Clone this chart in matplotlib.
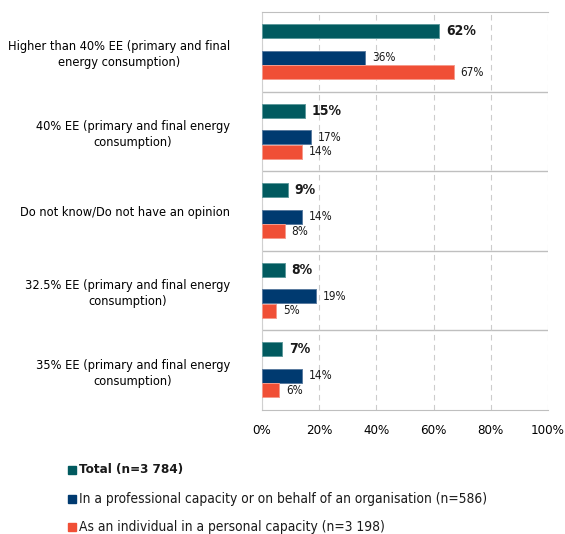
import matplotlib.pyplot as plt
from matplotlib.patches import Rectangle

categories = ['Higher than 40% EE (primary and final\nenergy consumption)',
              '40% EE (primary and final energy\nconsumption)',
              'Do not know/Do not have an opinion',
              '32.5% EE (primary and final energy\nconsumption)',
              '35% EE (primary and final energy\nconsumption)']
total = [62, 15, 9, 8, 7]
professional = [36, 17, 14, 19, 14]
individual = [67, 14, 8, 5, 6]
series_names = ['Total (n=3 784)',
                'In a professional capacity or on behalf of an organisation (n=586)',
                'As an individual in a personal capacity (n=3 198)']
colors = ['#015A5F', '#003A70', '#F04F36']
edges = ['#5E9A9C', '#5A7BA0', '#F59A8C']

plt.rcParams['font.family'] = ['DejaVu Sans']
plt.rcParams['font.stretch'] = 'condensed'

fig = plt.figure(figsize=(5.65, 5.34), dpi=100)
ax = fig.add_axes([262/565, 1-410/534, 286/565, 398/534])

n = len(categories)
pos_t = [i + 0.239 for i in range(n)]
pos_p = [i + 0.572 for i in range(n)]
pos_i = [i + 0.754 for i in range(n)]
h = 0.176

ax.barh(pos_t, total, height=h, color=colors[0], edgecolor=edges[0], linewidth=0.7, zorder=3)
ax.barh(pos_p, professional, height=h, color=colors[1], edgecolor=edges[1], linewidth=0.7, zorder=3)
ax.barh(pos_i, individual, height=h, color=colors[2], edgecolor=edges[2], linewidth=0.7, zorder=3)

for y, v in zip(pos_t, total):
    ax.text(v + 2.4, y, f'{v}%', va='center', ha='left', fontsize=10, fontweight='bold', color='#1a1a1a')
for y, v in zip(pos_p, professional):
    ax.text(v + 2.4, y, f'{v}%', va='center', ha='left', fontsize=8.5, color='#1a1a1a')
for y, v in zip(pos_i, individual):
    ax.text(v + 2.4, y, f'{v}%', va='center', ha='left', fontsize=8.5, color='#1a1a1a')

ax.set_xlim(0, 100)
ax.set_ylim(n, 0)
ax.set_xticks(range(0, 101, 20))
ax.set_xticklabels([f'{t}%' for t in range(0, 101, 20)], fontsize=9.5)
ax.set_yticks([i + 0.5 for i in range(n)])
ax.set_yticklabels(categories, fontsize=9.2, linespacing=1.3)
for lab in ax.get_yticklabels():
    lab.set_multialignment('center')
ax.tick_params(axis='y', length=0, pad=23)
ax.tick_params(axis='x', length=0, pad=10)

ax.xaxis.grid(True, linestyle=(0, (5, 4)), color='#cccccc', linewidth=0.8, zorder=0)
for i in range(1, n):
    ax.axhline(i, color='#bfbfbf', linewidth=1, zorder=1)
for s in ['top', 'bottom']:
    ax.spines[s].set_color('#bfbfbf')
ax.spines['left'].set_color('#d0d0d0')
ax.spines['right'].set_visible(False)

# legend
leg_y = [470, 499, 527]
for k, (name, c) in enumerate(zip(series_names, colors)):
    y = 1 - leg_y[k]/534
    fig.patches.append(Rectangle((68/565, y - 4/534), 8/565, 8/534, color=c, transform=fig.transFigure))
    fig.text(79/565, y, name, va='center', ha='left', fontsize=9.6 if k == 0 else 9.9,
             fontweight='bold' if k == 0 else 'normal', color='#1a1a1a')

fig.savefig('out.png', dpi=100)
